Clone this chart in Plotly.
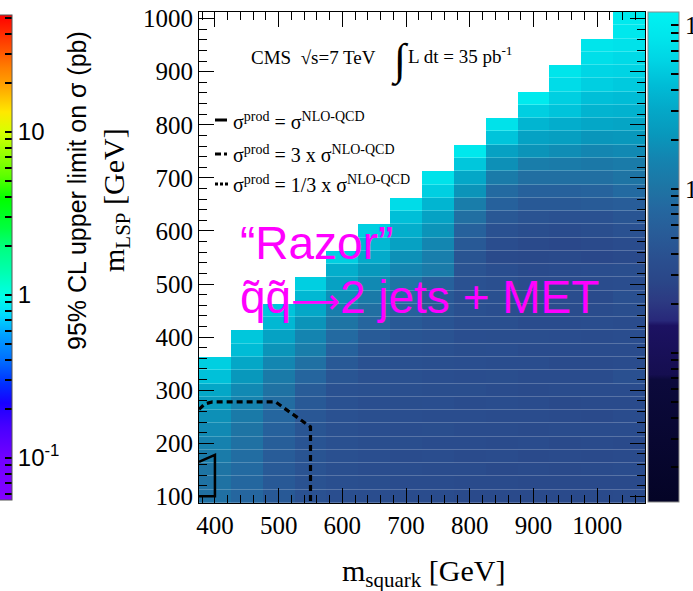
import math
import plotly.graph_objects as go

# ---------------- data ----------------
msq = [400, 450, 500, 550, 600, 650, 700, 750, 800, 850, 900, 950, 1000, 1050]
mlsp = list(range(100, 1001, 25))
x_ticks = [400, 500, 600, 700, 800, 900, 1000]
y_ticks = [100, 200, 300, 400, 500, 600, 700, 800, 900, 1000]

# log10 of the 95% CL upper limit on sigma (pb), per squark-mass column, from m_LSP = 100 upward
lim_400 = [-0.04, -0.02, 0.00, 0.08, 0.15, 0.22, 0.27, 0.35, 0.47, 0.66, 0.75]
lim_450 = [-0.14, -0.13, -0.10, -0.07, -0.03, 0.00, 0.07, 0.16, 0.22, 0.33, 0.47, 0.63, 0.70]
lim_500 = [-0.30, -0.30, -0.29, -0.27, -0.24, -0.20, -0.14, -0.08, -0.02, 0.07, 0.20, 0.30,
           0.43, 0.60, 0.68]
lim_550 = [-0.40, -0.39, -0.38, -0.37, -0.36, -0.35, -0.33, -0.30, -0.26, -0.15, -0.04, 0.10,
           0.18, 0.30, 0.47, 0.60, 0.75]
lim_600 = [-0.44, -0.43, -0.43, -0.42, -0.42, -0.41, -0.40, -0.40, -0.40, -0.35, -0.30, -0.20,
           -0.10, 0.00, 0.12, 0.27, 0.42, 0.53, 0.75]
lim_650 = [-0.46, -0.45, -0.46, -0.44, -0.45, -0.44, -0.43, -0.44, -0.42, -0.42, -0.40, -0.35,
           -0.28, -0.15, -0.05, 0.07, 0.22, 0.33, 0.50, 0.60, 0.75]
lim_700 = [-0.48, -0.47, -0.46, -0.47, -0.45, -0.46, -0.44, -0.45, -0.43, -0.42, -0.41, -0.40,
           -0.35, -0.30, -0.20, -0.10, 0.02, 0.18, 0.27, 0.42, 0.53, 0.65, 0.85]
lim_750 = [-0.48, -0.48, -0.47, -0.46, -0.47, -0.45, -0.46, -0.44, -0.45, -0.44, -0.43, -0.42,
           -0.38, -0.36, -0.33, -0.30, -0.20, 0.08, 0.12, 0.20, 0.30, 0.43, 0.58, 0.75, 0.90]
lim_800 = [-0.50, -0.49, -0.48, -0.49, -0.47, -0.48, -0.46, -0.47, -0.45, -0.46, -0.44, -0.45,
           -0.44, -0.43, -0.42, -0.41, -0.40, -0.38, -0.37, -0.30, -0.20, -0.05, 0.10, 0.30,
           0.47, 0.70, 0.95]
lim_850 = [-0.50, -0.49, -0.50, -0.48, -0.49, -0.47, -0.48, -0.46, -0.47, -0.45, -0.46, -0.44,
           -0.45, -0.43, -0.44, -0.42, -0.43, -0.44, -0.50, -0.46, -0.40, -0.32, -0.20, -0.10,
           0.08, 0.27, 0.42, 0.68, 0.90]
lim_900 = [-0.50, -0.51, -0.49, -0.50, -0.48, -0.49, -0.47, -0.48, -0.49, -0.47, -0.46, -0.48,
           -0.45, -0.47, -0.48, -0.46, -0.47, -0.49, -0.52, -0.50, -0.45, -0.38, -0.30, -0.20,
           -0.05, 0.10, 0.30, 0.43, 0.58, 0.75, 0.98]
lim_950 = [-0.51, -0.50, -0.50, -0.49, -0.50, -0.48, -0.49, -0.50, -0.48, -0.47, -0.49, -0.48,
           -0.46, -0.48, -0.47, -0.46, -0.48, -0.47, -0.50, -0.53, -0.47, -0.40, -0.30, -0.20,
           -0.05, 0.08, 0.25, 0.40, 0.52, 0.68, 0.75, 0.85, 0.92]
lim_1000 = [-0.50, -0.51, -0.49, -0.50, -0.49, -0.48, -0.50, -0.49, -0.47, -0.48, -0.49, -0.47,
            -0.48, -0.46, -0.48, -0.49, -0.47, -0.46, -0.53, -0.50, -0.45, -0.40, -0.28, -0.18,
            -0.05, 0.05, 0.20, 0.32, 0.47, 0.57, 0.65, 0.75, 0.80, 0.87, 0.92]
lim_1050 = [-0.49, -0.50, -0.48, -0.49, -0.50, -0.48, -0.47, -0.49, -0.48, -0.42, -0.47, -0.48,
            -0.46, -0.47, -0.45, -0.42, -0.46, -0.45, -0.50, -0.47, -0.40, -0.35, -0.25, -0.10,
            0.00, 0.08, 0.22, 0.33, 0.45, 0.56, 0.63, 0.72, 0.78, 0.83, 0.90, 0.95, 0.98]
columns = [lim_400, lim_450, lim_500, lim_550, lim_600, lim_650, lim_700, lim_750,
           lim_800, lim_850, lim_900, lim_950, lim_1000, lim_1050]

# exclusion contours (observed, sigma_prod = NLO and 3 x NLO)
nlo_x = [375, 400, 400, 375]
nlo_y = [165, 178, 100, 100]
nlo3_x = [375, 384, 396, 495, 550, 550]
nlo3_y = [264, 274, 278, 278, 231, 80]

# colour-bar ranges (log10 pb)
main_range = [-1.91, 1.08]
left_range = [-1.258, 1.718]

# ---------------- build z matrix ----------------
z = [[None] * len(msq) for _ in mlsp]
for ci, col in enumerate(columns):
    for ri, v in enumerate(col):
        z[ri][ci] = v

main_scale = [
    [0.0, "#040426"], [0.25, "#0c0a3c"], [0.26, "#150e50"], [0.36, "#1c1262"],
    [0.37, "#28287a"], [0.41, "#2c3a82"], [0.45, "#2a4688"], [0.50, "#2a5090"],
    [0.55, "#285c98"], [0.60, "#2468a0"], [0.64, "#1e74a4"], [0.70, "#1484b0"],
    [0.75, "#0898bc"], [0.80, "#04a8c8"], [0.85, "#00bcd6"], [0.90, "#00d4e4"],
    [0.95, "#00e6ec"], [1.0, "#00f2f2"]]


def lighten(hexc, f=0.22):
    r, g, b = int(hexc[1:3], 16), int(hexc[3:5], 16), int(hexc[5:7], 16)
    r, g, b = [int(c + (255 - c) * f) for c in (r, g, b)]
    return "#%02x%02x%02x" % (r, g, b)


grid_scale = [[p, lighten(c)] for p, c in main_scale]

left_scale = [
    [0.0, "#8400ff"], [0.09, "#7000ff"], [0.15, "#4800ff"], [0.20, "#1800ff"],
    [0.24, "#0030ff"], [0.29, "#0070ff"], [0.34, "#00a0ff"], [0.38, "#00d8ff"],
    [0.42, "#00ffe8"], [0.47, "#00ffb0"], [0.52, "#00ff80"], [0.56, "#00ff40"],
    [0.62, "#00ff00"], [0.67, "#60ff00"], [0.72, "#a0ff00"], [0.76, "#d8ff00"],
    [0.80, "#ffe800"], [0.85, "#ffa800"], [0.89, "#ff8000"], [0.93, "#ff5000"],
    [1.0, "#ff0000"]]


def log_ticks(lo, hi, labels):
    vals, txt = [], []
    for dec in range(-3, 3):
        for m in range(1, 10):
            v = math.log10(m * 10 ** dec)
            if lo <= v <= hi:
                vals.append(v)
                txt.append(labels.get(dec, "") if m == 1 else "")
    return vals, txt


mv, mt = log_ticks(*main_range, {0: "1", 1: "10"})
lv, lt = log_ticks(*left_range, {-1: "10<sup>-1</sup>", 0: "1", 1: "10"})

W, H = 693, 591
L, R, T, B = 199, 645, 12, 503


def px(x):
    return (x - L) / (R - L)


def py(y):
    return (B - y) / (B - T)


fig = go.Figure()
# faint cell-boundary lines: lighter copy of the map underneath, main map drawn with gaps
fig.add_trace(go.Heatmap(
    x=msq, y=mlsp, z=z, zmin=main_range[0], zmax=main_range[1],
    colorscale=grid_scale, showscale=False, hoverinfo="skip"))
fig.add_trace(go.Heatmap(
    x=msq, y=mlsp, z=z, zmin=main_range[0], zmax=main_range[1],
    colorscale=main_scale, hoverongaps=False, ygap=1,
    colorbar=dict(x=px(648), xanchor="left", y=py(257), yanchor="middle",
                  lenmode="fraction", len=490 / (B - T),
                  thickness=31, xpad=0, ypad=0, outlinewidth=1, outlinecolor="#8a8a8a",
                  ticks="inside", ticklen=8, tickcolor="black", tickwidth=1.5,
                  tickmode="array", tickvals=mv, ticktext=mt,
                  tickfont=dict(family="Liberation Serif", size=25, color="black"))))

fig.add_trace(go.Scatter(x=nlo_x, y=nlo_y, mode="lines",
                         line=dict(color="black", width=2.5), showlegend=False))
fig.add_trace(go.Scatter(x=nlo3_x, y=nlo3_y, mode="lines",
                         line=dict(color="black", width=3.2, dash="6px,4px"), showlegend=False))

fig.add_trace(go.Scatter(
    x=[None], y=[None], mode="markers", showlegend=False,
    marker=dict(color=[0], cmin=left_range[0], cmax=left_range[1], colorscale=left_scale,
                showscale=True,
                colorbar=dict(x=px(-7), xanchor="left", y=py(257.5), yanchor="middle",
                              lenmode="fraction", len=485 / (B - T),
                              thickness=19, xpad=0, ypad=0, outlinewidth=1,
                              outlinecolor="#555555",
                              ticks="inside", ticklen=7, tickcolor="black", tickwidth=1.5,
                              tickmode="array", tickvals=lv, ticktext=lt,
                              tickfont=dict(family="Liberation Sans", size=24, color="black")))))

serif = "Liberation Serif"
ann = []
ann.append(dict(x=px(340), y=py(573), text="m<sub>squark</sub> [GeV]", xanchor="left",
                yanchor="middle", font=dict(family=serif, size=30, color="black")))
ann.append(dict(x=px(116), y=py(274), text="m<sub>LSP</sub> [GeV]", textangle=-90,
                xanchor="center", yanchor="bottom", font=dict(family=serif, size=30, color="black")))
ann.append(dict(x=px(77), y=py(191), text="95% CL upper limit on σ (pb)", textangle=-90,
                xanchor="center", yanchor="middle",
                font=dict(family="Liberation Sans", size=25, color="black")))
ann.append(dict(x=px(313), y=py(57), text="CMS  √s=7 TeV", xanchor="center", yanchor="middle",
                font=dict(family=serif, size=19, color="black")))
ann.append(dict(x=px(400), y=py(60), text="∫", xanchor="center", yanchor="middle",
                font=dict(family=serif, size=44, color="black")))
ann.append(dict(x=px(406), y=py(55), text="L dt = 35 pb<sup>-1</sup>", xanchor="left",
                yanchor="middle", font=dict(family=serif, size=19, color="black")))
leg_txt = ["σ<sup>prod</sup> = σ<sup>NLO-QCD</sup>",
           "σ<sup>prod</sup> = 3 x σ<sup>NLO-QCD</sup>",
           "σ<sup>prod</sup> = 1/3 x σ<sup>NLO-QCD</sup>"]
leg_y = [121, 154, 184]
for t, yy in zip(leg_txt, leg_y):
    ann.append(dict(x=px(231), y=py(yy), text=t, xanchor="left", yanchor="middle",
                    font=dict(family=serif, size=20, color="black")))
ann.append(dict(x=px(238), y=py(243), text="“Razor”", xanchor="left", yanchor="middle",
                font=dict(family="Liberation Sans", size=46, color="#ff00ff")))
ann.append(dict(x=px(238), y=py(297),
                text="q\u0303q\u0303<span style=\"font-family:DejaVu Sans;font-size:34px\">⟶</span>2 jets + MET",
                xanchor="left", yanchor="middle",
                font=dict(family="Liberation Sans", size=46, color="#ff00ff")))
for a in ann:
    a.update(xref="paper", yref="paper", showarrow=False)

shapes = [
    dict(type="line", x0=px(215), x1=px(227), y0=py(120), y1=py(120),
         line=dict(color="black", width=3)),
    dict(type="line", x0=px(215), x1=px(221), y0=py(154), y1=py(154),
         line=dict(color="black", width=3)),
    dict(type="line", x0=px(224), x1=px(227), y0=py(154), y1=py(154),
         line=dict(color="black", width=3)),
    dict(type="line", x0=px(215), x1=px(229), y0=py(184), y1=py(184),
         line=dict(color="black", width=3, dash="3px,2px")),
]
for s in shapes:
    s.update(xref="paper", yref="paper")

axis_common = dict(showgrid=False, zeroline=False, showline=True, linecolor="black",
                   linewidth=1.2, mirror="ticks", ticks="inside", ticklen=15, tickwidth=1.2,
                   tickcolor="black", tickfont=dict(family=serif, size=25, color="black"))
fig.update_layout(
    width=W, height=H,
    margin=dict(l=L, r=W - R, t=T, b=H - B, autoexpand=False),
    plot_bgcolor="white", paper_bgcolor="white", showlegend=False,
    xaxis=dict(range=[375, 1075], tickmode="array", tickvals=x_ticks,
               minor=dict(dtick=20, tick0=400, ticks="inside", ticklen=8, tickcolor="black"),
               **axis_common),
    yaxis=dict(range=[87.5, 1012.5], tickmode="array", tickvals=y_ticks,
               minor=dict(dtick=20, tick0=100, ticks="inside", ticklen=8, tickcolor="black"),
               **axis_common),
    annotations=ann, shapes=shapes,
)
fig.write_html("out.html")
